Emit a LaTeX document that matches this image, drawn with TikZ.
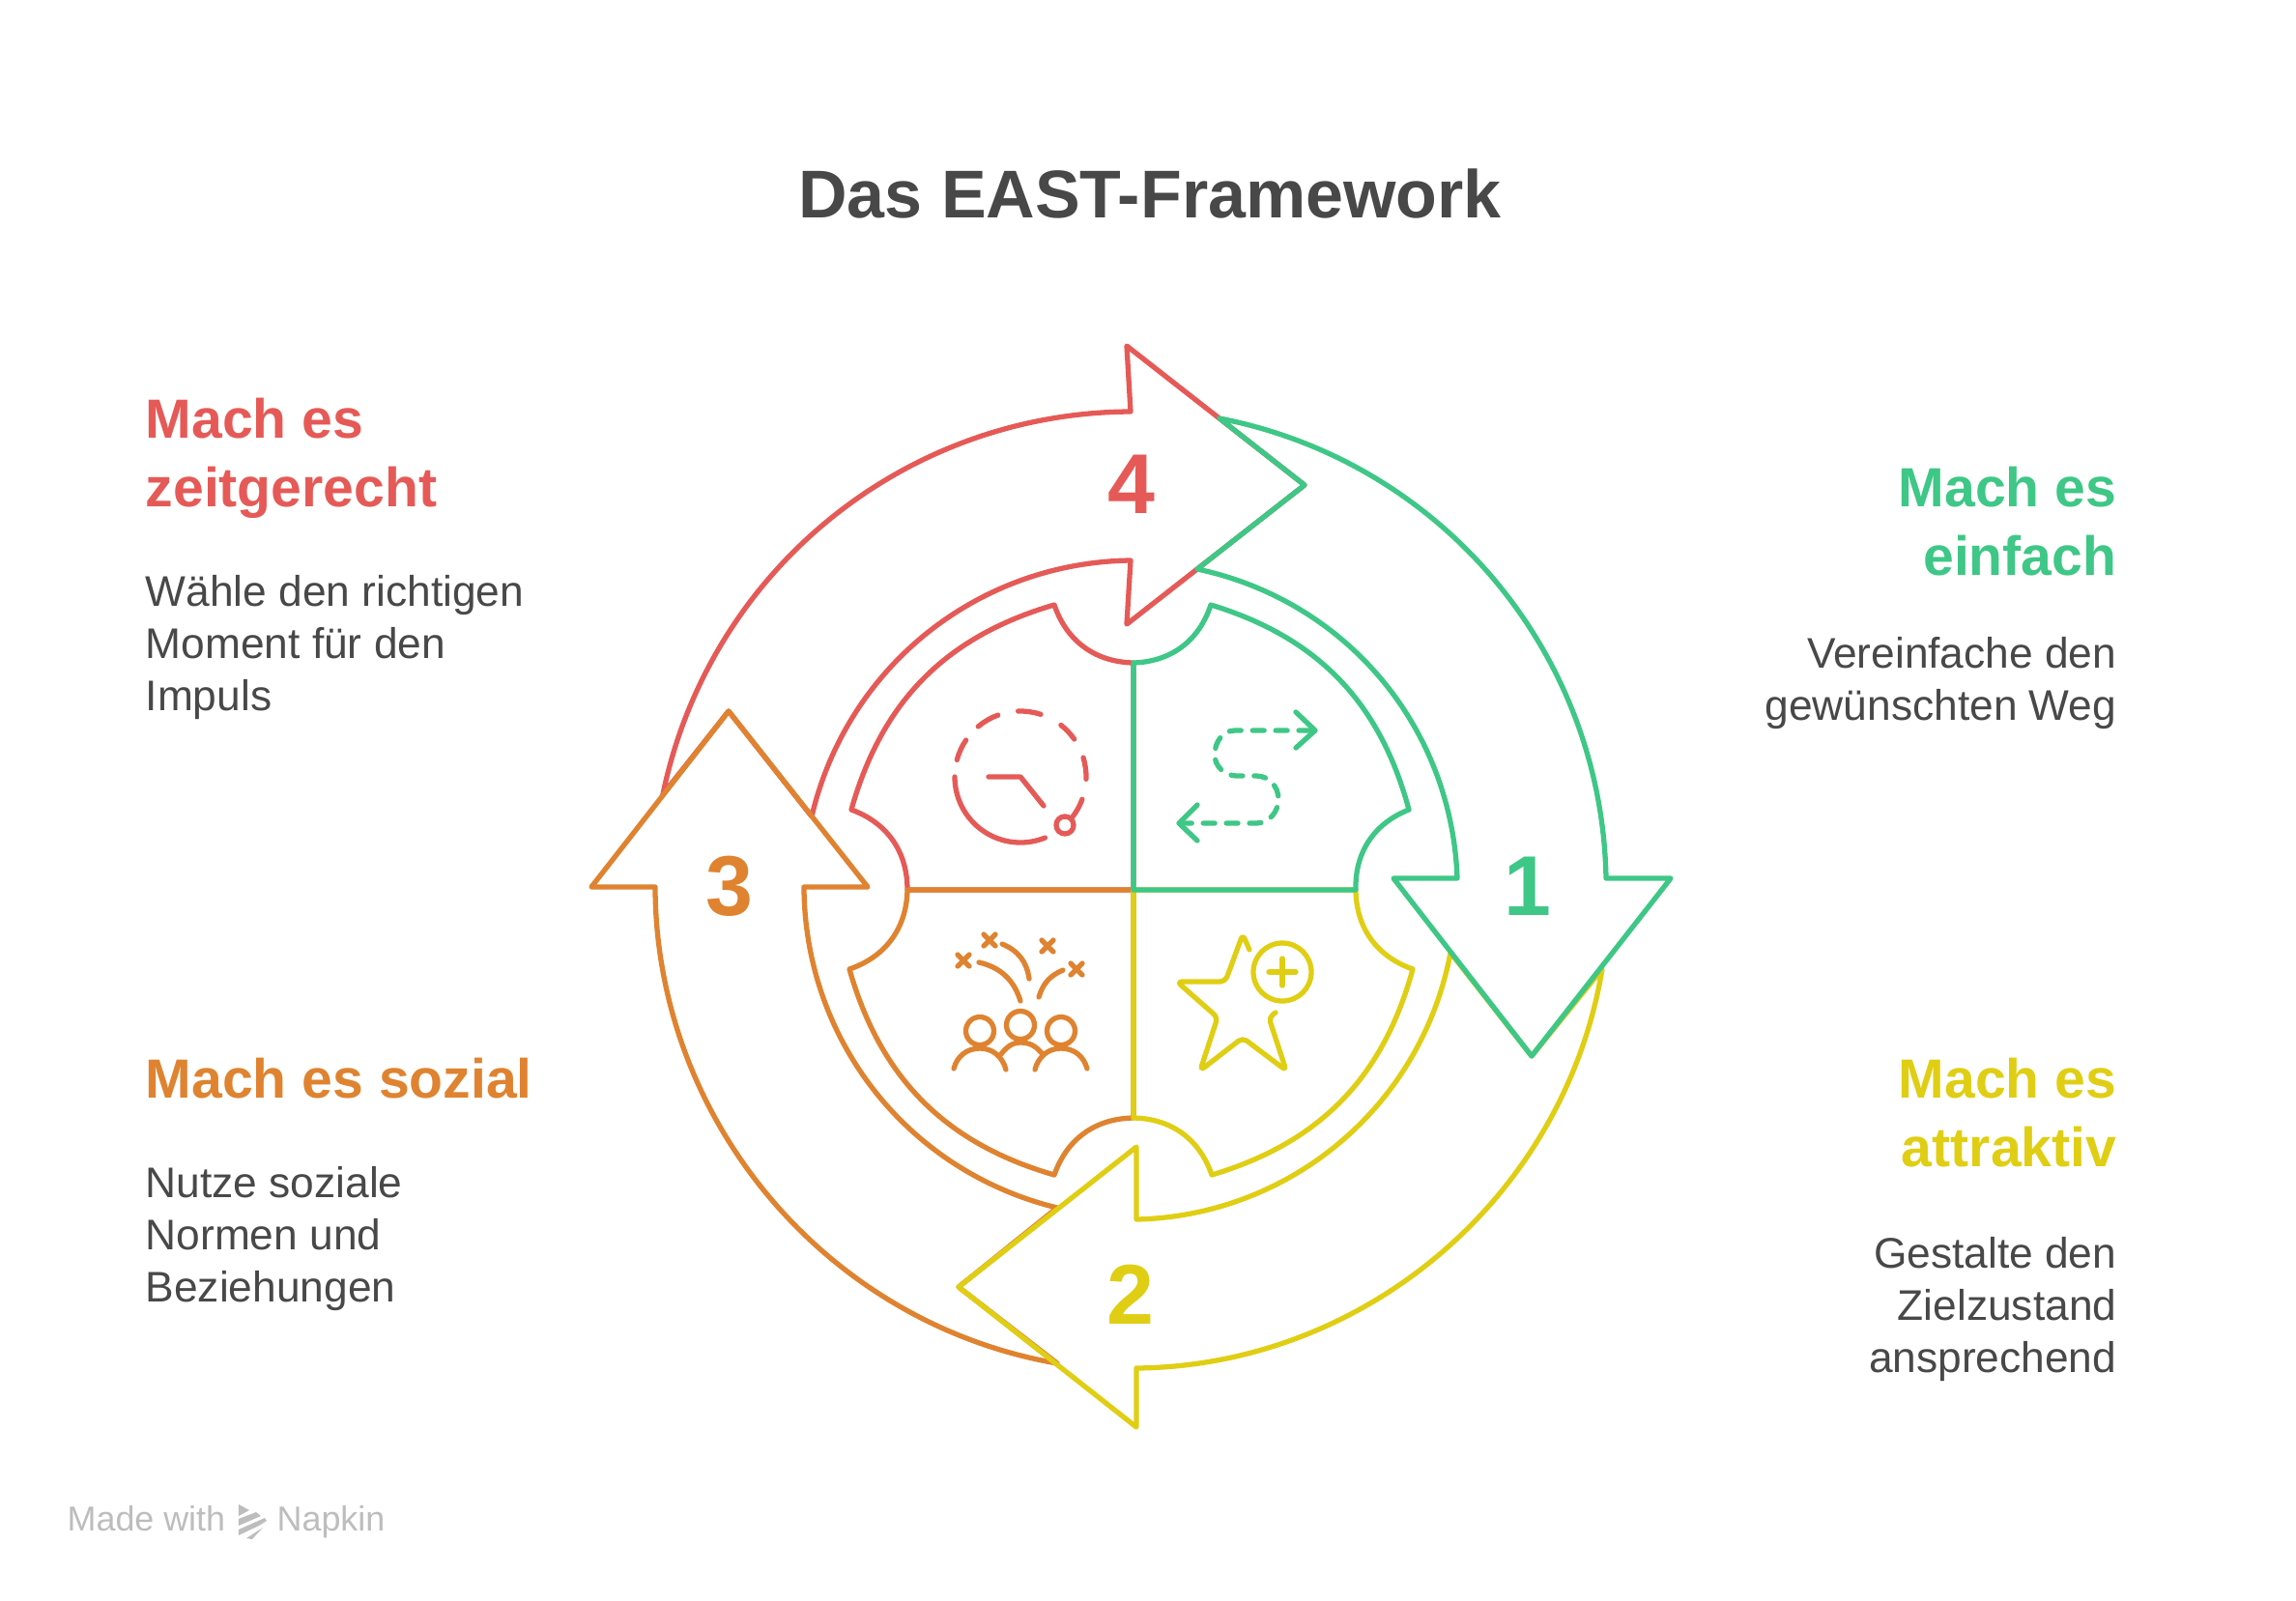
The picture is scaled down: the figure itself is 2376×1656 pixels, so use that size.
\documentclass[tikz,border=0pt]{standalone}
\usepackage{fontspec}
\setmainfont{Liberation Sans}
\definecolor{cred}{HTML}{E55A57}
\definecolor{cgreen}{HTML}{3EC786}
\definecolor{cyellow}{HTML}{E0CE14}
\definecolor{corange}{HTML}{DF8330}
\definecolor{ctext}{HTML}{484848}
\definecolor{cmark}{HTML}{BDBDBD}
\tikzset{
	band/.style={line width=1.5pt,line join=round,line cap=round,looseness=.96},
	icon/.style={line width=1.5pt,line join=round,line cap=round},
	headtext/.style={inner sep=0,font=\fontsize{16.25}{20.4}\selectfont\bfseries},
	bodytext/.style={inner sep=0,text=ctext,font=\fontsize{12.6}{15.36}\selectfont},
	numtext/.style={inner sep=0,font=\fontsize{25}{30}\selectfont\bfseries}
}
\begin{document}
\begin{tikzpicture}[x=.01cm,y=.01cm]
\useasboundingbox (-1173,-735) rectangle (1203,921);
\foreach \jo/\a/\bo/\ho/\tp/\hi/\bi/\b/\ji/\pv/\c in{
	{-487,99}/39/{-3,495}/{-7,563}/{177,419}/{-7,275}/{-3,341}/38/{-333,76}/{-419,185}/cred,
	{-79,-490}/40/{-495,3}/{-561,3}/{-419,185}/{-275,3}/{-341,3}/38/{-79,-329}/{-181,-411}/corange,
	{485,-82}/40/{3,-495}/{3,-556}/{-181,-411}/{3,-266}/{3,-341}/39/{328,-65}/{412,-172}/cyellow,
	{89,488}/39/{489,12}/{556,12}/{412,-172}/{269,12}/{335,12}/38/{66,332}/{177,419}/cgreen}
{
	\draw[band,\c] (\jo) to[bend left=\a] (\bo) -- (\ho) -- (\tp) -- (\hi) -- (\bi) to[bend right=\b] (\ji) -- (\pv) -- cycle;
}
\foreach \p/\q/\r/\s/\c in{
	{-234,0}/{-292,83}/{-82,295}/{0,235}/cred,
	{0,-236}/{-82,-295}/{-294,-82}/{-234,0}/corange,
	{230,0}/{289,-82}/{81,-295}/{0,-236}/cyellow,
	{0,235}/{80,295}/{285,83}/{230,0}/cgreen}
{
	\draw[band,\c,looseness=1] (0,0) -- (\p) to[bend right=35] (\q) to[bend left=29] (\r) to[bend right=35] (\s) -- cycle;
}
\foreach \n/\x/\c/\l in{
	1/{(408,4)}/cgreen/1,
	2/{(-3,-419)}/cyellow/2,
	3/{(-418,4)}/corange/3,
	4/{(-2,420)}/cred/4}
{
	\node[numtext,text=\c] (num\n) at \x {\l};
}
\node[inner sep=0,anchor=base,text=ctext,font=\fontsize{19.9}{24}\selectfont\bfseries] (title) at (17,696) {Das EAST-Framework};
\node[headtext,text=cred,anchor=north west,align=left] (headred) at (-1023,510) {Mach es\\zeitgerecht};
\node[bodytext,anchor=north west,align=left] (bodyred) at (-1023,326) {Wähle den richtigen\\Moment für den\\Impuls};
\node[headtext,text=cgreen,anchor=north east,align=right] (headgreen) at (1018,439) {Mach es\\einfach};
\node[bodytext,anchor=north east,align=right] (bodygreen) at (1018,262) {Vereinfache den\\gewünschten Weg};
\node[headtext,text=corange,anchor=north west,align=left] (headorange) at (-1023,-173) {Mach es sozial};
\node[bodytext,anchor=north west,align=left] (bodyorange) at (-1023,-286) {Nutze soziale\\Normen und\\Beziehungen};
\node[headtext,text=cyellow,anchor=north east,align=right] (headyellow) at (1018,-173) {Mach es\\attraktiv};
\node[bodytext,anchor=north east,align=right] (bodyyellow) at (1018,-359) {Gestalte den\\Zielzustand\\ansprechend};
\draw[icon,cred] (-117,117) ++(180:68) arc[start angle=180,end angle=292,radius=68];
\foreach \s/\e in{-39/-20,-2/17,35/52,72/92,110/130,146/165}
{
	\draw[icon,cred] (-117,117) ++(\s:68) arc[start angle=\s,end angle=\e,radius=68];
}
\draw[icon,cred] (-150,117) -- (-117,117) -- (-93,87);
\draw[icon,cred,fill=white] (-71,67) circle (9);
\draw[icon,cgreen,dash pattern=on 3.4pt off 3.4pt] (183,165) -- (105,165) to[out=180,in=90] (84,140) to[out=-90,in=180] (107,118) -- (127,118) to[out=0,in=90] (150,94) to[out=-90,in=0] (127,69) -- (52,69);
\draw[icon,cgreen] (168,184) -- (188,165) -- (168,147);
\draw[icon,cgreen] (66,88) -- (47,69) -- (66,51);
\draw[icon,cyellow,rounded corners=1.5pt] (120,-62) -- (113,-46) -- (95,-95) -- (45,-95) -- (87,-132) -- (69,-187) -- (113,-153) -- (158,-187) -- (140,-132) -- (147,-127);
\draw[icon,cyellow] (154,-85) circle (30);
\draw[icon,cyellow] (140,-85) -- (168,-85);
\draw[icon,cyellow] (154,-71) -- (154,-99);
\foreach \x/\y in{-159/-146,-117/-140,-75/-146}
{
	\draw[icon,corange] (\x,\y) circle (14.5);
}
\draw[icon,corange] (-186,-185) to[out=75,in=180] (-159,-164) to[out=0,in=105] (-132,-186);
\draw[icon,corange] (-102,-186) to[out=75,in=180] (-75,-164) to[out=0,in=105] (-48,-185);
\draw[icon,corange] (-138,-171) to[out=50,in=180] (-117,-158) to[out=0,in=130] (-95,-169);
\draw[icon,corange] (-160,-75) to[bend left=30] (-117,-115);
\draw[icon,corange] (-136,-56) to[bend left=30] (-108,-92);
\draw[icon,corange] (-98,-111) to[bend left=25] (-73,-83);
\foreach \x/\y in{-176/-73,-149/-52,-89/-58,-59/-82}
{
	\draw[icon,corange] (\x-6,\y-6) -- (\x+6,\y+6);
	\draw[icon,corange] (\x-6,\y+6) -- (\x+6,\y-6);
}
\node[inner sep=0,anchor=base west,text=cmark,font=\fontsize{10.2}{12}\selectfont] (madewith) at (-1104,-663) {Made with};
\node[inner sep=0,anchor=base west,text=cmark,font=\fontsize{10.2}{12}\selectfont] (napkin) at (-887,-663) {Napkin};
\fill[cmark] (-926,-636) -- (-915,-642) -- (-926,-648) -- cycle;
\fill[cmark] (-926,-651) -- (-908,-644) -- (-903,-648) -- (-926,-658) -- cycle;
\fill[cmark] (-926,-662) -- (-899,-650) -- (-897,-653) -- (-905,-658) -- (-926,-668) -- cycle;
\fill[cmark] (-918,-671) -- (-901,-660) -- (-912,-672) -- cycle;
\end{tikzpicture}
\end{document}
